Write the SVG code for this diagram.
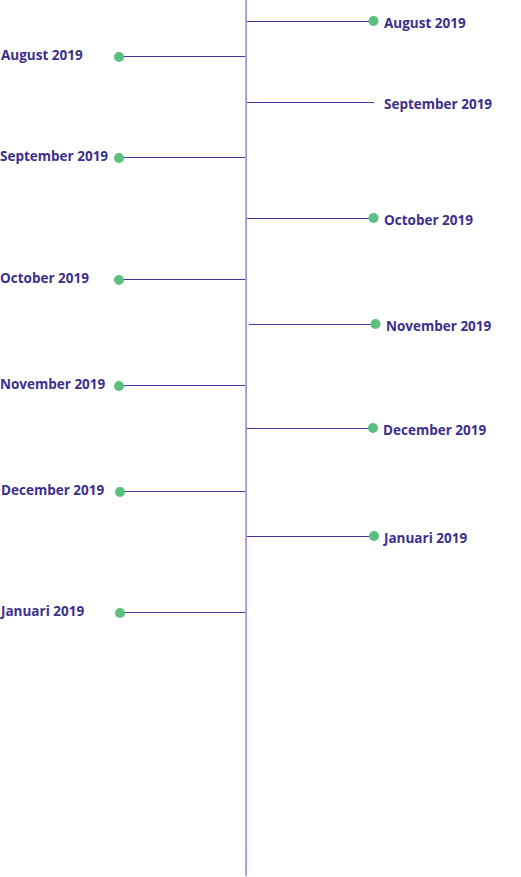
<svg xmlns="http://www.w3.org/2000/svg" width="521" height="877" viewBox="0 0 521 877">
<defs>
<linearGradient id="axisGrad" gradientUnits="userSpaceOnUse" x1="0" y1="0" x2="0" y2="877">
<stop offset="0" stop-color="#9d9ddb"/>
<stop offset="1" stop-color="#b18fe0"/>
</linearGradient>
</defs>
<style>
.lbl{font-family:"Open Sans","Liberation Sans",sans-serif;font-weight:700;font-size:13.5px;fill:#3b2f8e}
.conn{stroke:#4a36a8;stroke-width:1.1;fill:none}
.dot{fill:#5bbf80}
</style>
<rect width="521" height="877" fill="#ffffff"/>
<g id="connectors">
<rect x="245.2" y="0" width="1.8" height="876" fill="url(#axisGrad)"/>
<line class="conn" x1="247" y1="21.5" x2="373" y2="21.5"/>
<line class="conn" x1="247" y1="102.5" x2="374" y2="102.5"/>
<line class="conn" x1="247" y1="218.5" x2="373" y2="218.5"/>
<line class="conn" x1="249" y1="324.5" x2="375" y2="324.5"/>
<line class="conn" x1="247" y1="428.5" x2="372" y2="428.5"/>
<line class="conn" x1="247" y1="536.5" x2="373" y2="536.5"/>
<line class="conn" x1="119" y1="56.5" x2="245" y2="56.5"/>
<line class="conn" x1="118" y1="157.5" x2="245" y2="157.5"/>
<line class="conn" x1="119" y1="279.5" x2="245" y2="279.5"/>
<line class="conn" x1="119" y1="385.5" x2="245" y2="385.5"/>
<line class="conn" x1="120" y1="491.5" x2="245" y2="491.5"/>
<line class="conn" x1="120" y1="612.5" x2="245" y2="612.5"/>
</g>
<g id="r-aug"><circle class="dot" cx="373.5" cy="21" r="5"/><text class="lbl" x="384" y="27.5">August 2019</text></g>
<g id="r-sep"><text class="lbl" x="384" y="108.5">September 2019</text></g>
<g id="r-oct"><circle class="dot" cx="373.5" cy="218" r="5"/><text class="lbl" x="384" y="224.5">October 2019</text></g>
<g id="r-nov"><circle class="dot" cx="375.5" cy="324" r="5"/><text class="lbl" x="386" y="330.5">November 2019</text></g>
<g id="r-dec"><circle class="dot" cx="373" cy="428" r="5"/><text class="lbl" x="383" y="434.5">December 2019</text></g>
<g id="r-jan"><circle class="dot" cx="374" cy="536" r="5"/><text class="lbl" x="384" y="542.5">Januari 2019</text></g>
<g id="l-aug"><circle class="dot" cx="119" cy="57" r="5"/><text class="lbl" x="1" y="60">August 2019</text></g>
<g id="l-sep"><circle class="dot" cx="119" cy="158" r="5"/><text class="lbl" x="0" y="161">September 2019</text></g>
<g id="l-oct"><circle class="dot" cx="119" cy="280" r="5"/><text class="lbl" x="0" y="282.5">October 2019</text></g>
<g id="l-nov"><circle class="dot" cx="119" cy="386" r="5"/><text class="lbl" x="0" y="388.5">November 2019</text></g>
<g id="l-dec"><circle class="dot" cx="120" cy="492" r="5"/><text class="lbl" x="1" y="494.5">December 2019</text></g>
<g id="l-jan"><circle class="dot" cx="120" cy="613" r="5"/><text class="lbl" x="1" y="615.5">Januari 2019</text></g>
</svg>
